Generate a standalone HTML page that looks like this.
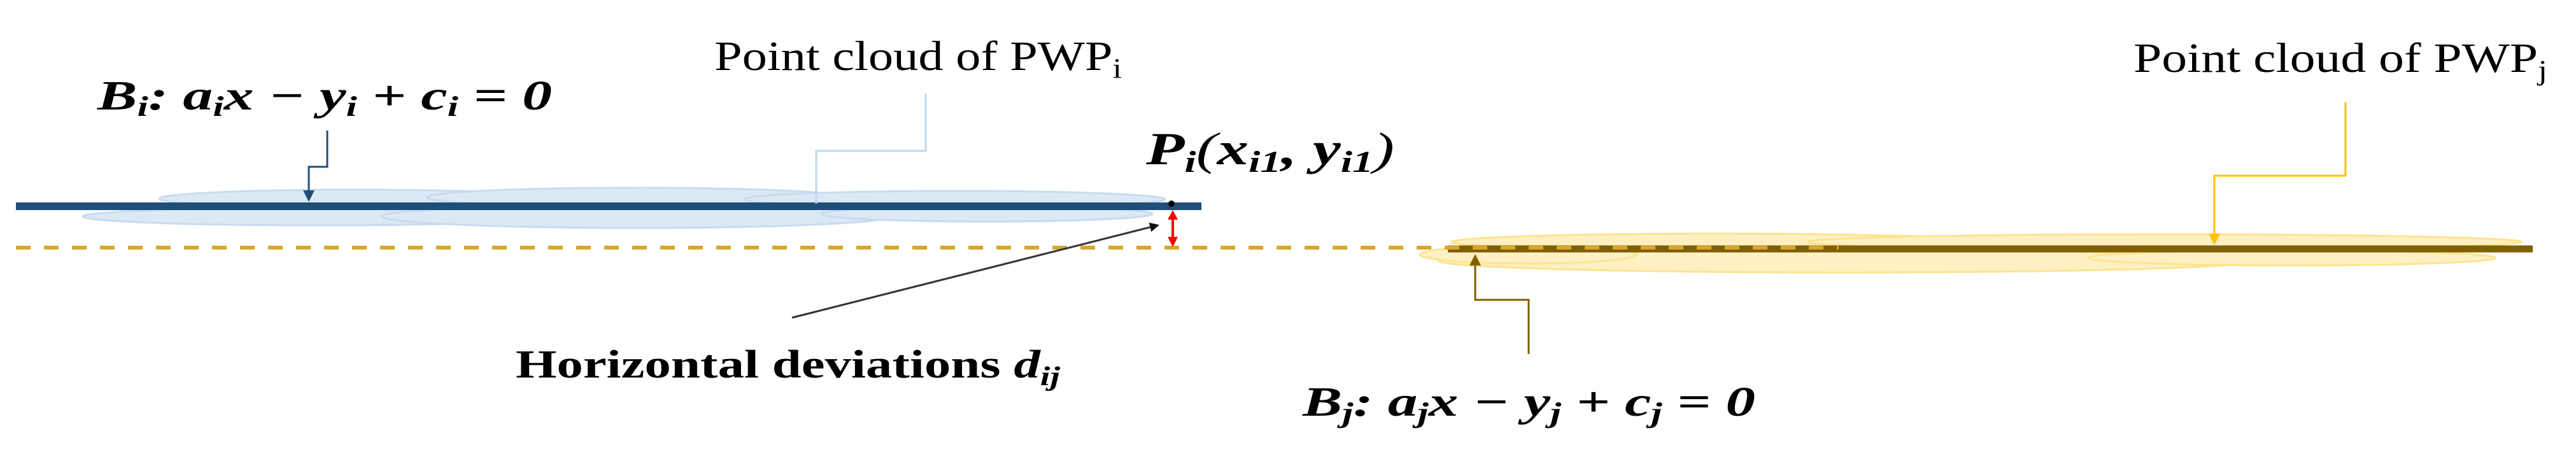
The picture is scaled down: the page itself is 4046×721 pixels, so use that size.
<!DOCTYPE html>
<html><head><meta charset="utf-8"><style>html,body{margin:0;padding:0;background:#fff;}svg{display:block}</style></head>
<body>
<svg width="4046" height="721" viewBox="0 0 4046 721" xmlns="http://www.w3.org/2000/svg">
<defs>
<marker id="ab" markerWidth="6" markerHeight="6" refX="5" refY="3" orient="auto" markerUnits="strokeWidth"><path d="M0,0 L6,3 L0,6 z" fill="#1f4e79"/></marker>
<marker id="ay" markerWidth="6" markerHeight="6" refX="5" refY="3" orient="auto" markerUnits="strokeWidth"><path d="M0,0 L6,3 L0,6 z" fill="#ffc000"/></marker>
<marker id="abr" markerWidth="6" markerHeight="6" refX="5" refY="3" orient="auto" markerUnits="strokeWidth"><path d="M0,0 L6,3 L0,6 z" fill="#7f6000"/></marker>
<marker id="ak" markerWidth="5" markerHeight="5" refX="4" refY="2.5" orient="auto" markerUnits="strokeWidth"><path d="M0,0 L5,2.5 L0,5 z" fill="#111"/></marker>
</defs>
<!-- blue cloud -->
<g fill="#dbe8f5" stroke="#c8dbef" stroke-width="3">
<ellipse cx="560" cy="312" rx="310" ry="14"/>
<ellipse cx="1000" cy="310" rx="330" ry="15"/>
<ellipse cx="1500" cy="313" rx="330" ry="13"/>
<ellipse cx="500" cy="340" rx="370" ry="14"/>
<ellipse cx="1000" cy="340" rx="400" ry="18"/>
<ellipse cx="1550" cy="336" rx="260" ry="12"/>
</g>
<line x1="25" y1="324" x2="1887" y2="324" stroke="#1f4e79" stroke-width="12"/>
<!-- yellow cloud -->
<g fill="#fff0c4" stroke="#fde48e" stroke-width="3">
<ellipse cx="2700" cy="380" rx="420" ry="13"/>
<ellipse cx="3400" cy="380" rx="560" ry="12"/>
<ellipse cx="2900" cy="410" rx="640" ry="18"/>
<ellipse cx="3600" cy="405" rx="320" ry="12"/>
<ellipse cx="2400" cy="400" rx="170" ry="14"/>
</g>
<line x1="2274" y1="391" x2="3978" y2="391" stroke="#7f6000" stroke-width="11"/>
<!-- dashed -->
<line x1="25" y1="389" x2="2888" y2="389" stroke="#d8a62a" stroke-width="6" stroke-dasharray="23 21"/>
<!-- red arrow -->
<line x1="1842" y1="345" x2="1842" y2="372" stroke="#f00" stroke-width="4"/>
<path d="M1834,345 L1850,345 L1842,330 z" fill="#f00"/>
<path d="M1834,372 L1850,372 L1842,388 z" fill="#f00"/>
<circle cx="1840" cy="320" r="5" fill="#000"/>
<!-- black arrow -->
<line x1="1244" y1="499" x2="1818" y2="354" stroke="#333" stroke-width="3" marker-end="url(#ak)"/>
<!-- leaders -->
<polyline points="514,205 514,262 485,262 485,314" fill="none" stroke="#1f4e79" stroke-width="3" marker-end="url(#ab)"/>
<polyline points="1454,147 1454,237 1282,237 1282,320" fill="none" stroke="#bdd7ee" stroke-width="3"/>
<polyline points="3684,161 3684,276 3478,276 3478,382" fill="none" stroke="#ffc000" stroke-width="3" marker-end="url(#ay)"/>
<polyline points="2401,556 2401,471 2317,471 2317,402" fill="none" stroke="#7f6000" stroke-width="3" marker-end="url(#abr)"/>
<!-- text -->
<g font-family="'Liberation Serif', serif" fill="#000">
<text x="153" y="172" font-size="66" font-weight="bold" font-style="italic" textLength="714" lengthAdjust="spacingAndGlyphs">B<tspan font-size="44" dy="10">i</tspan><tspan dy="-10">: a</tspan><tspan font-size="44" dy="10">i</tspan><tspan dy="-10">x − y</tspan><tspan font-size="44" dy="10">i</tspan><tspan dy="-10"> + c</tspan><tspan font-size="44" dy="10">i</tspan><tspan dy="-10"> = 0</tspan></text>
<text x="1122" y="110" font-size="66" textLength="640" lengthAdjust="spacingAndGlyphs">Point cloud of PWP<tspan font-size="44" dy="12">i</tspan></text>
<text x="3351" y="113" font-size="66" textLength="650" lengthAdjust="spacingAndGlyphs">Point cloud of PWP<tspan font-size="44" dy="12">j</tspan></text>
<text x="1800" y="258" font-size="72" font-weight="bold" font-style="italic" textLength="390" lengthAdjust="spacingAndGlyphs">P<tspan font-size="48" dy="12">i</tspan><tspan dy="-12" font-weight="normal">(</tspan>x<tspan font-size="48" dy="12">i1</tspan><tspan dy="-12">, y</tspan><tspan font-size="48" dy="12">i1</tspan><tspan dy="-12" font-weight="normal">)</tspan></text>
<text x="810" y="593" font-size="62" font-weight="bold" textLength="855" lengthAdjust="spacingAndGlyphs">Horizontal deviations <tspan font-style="italic">d</tspan><tspan font-style="italic" font-size="42" dy="12">ij</tspan></text>
<text x="2046" y="653" font-size="66" font-weight="bold" font-style="italic" textLength="711" lengthAdjust="spacingAndGlyphs">B<tspan font-size="44" dy="10">j</tspan><tspan dy="-10">: a</tspan><tspan font-size="44" dy="10">j</tspan><tspan dy="-10">x − y</tspan><tspan font-size="44" dy="10">j</tspan><tspan dy="-10"> + c</tspan><tspan font-size="44" dy="10">j</tspan><tspan dy="-10"> = 0</tspan></text>
</g>
</svg>
</body></html>
